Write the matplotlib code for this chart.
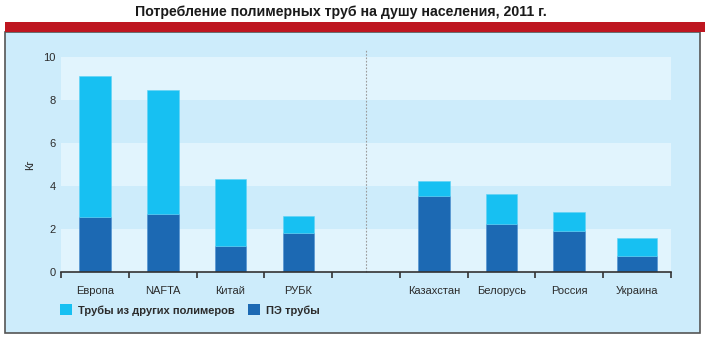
import matplotlib
matplotlib.use("Agg")
import matplotlib.pyplot as plt
from matplotlib.patches import Rectangle, Patch
from matplotlib import font_manager

# Per-capita consumption of polymer pipes, 2011 (kg)
categories = ["Европа", "NAFTA", "Китай", "РУБК", "", "Казахстан", "Белорусь", "Россия", "Украина"]
pe_pipes = [2.55, 2.7, 1.22, 1.82, None, 3.55, 2.25, 1.92, 0.77]
other_pipes = [6.57, 5.75, 3.1, 0.8, None, 0.68, 1.39, 0.87, 0.81]
yticks = [0, 2, 4, 6, 8, 10]
series_labels = ["Трубы из других полимеров", "ПЭ трубы"]
title = "Потребление полимерных труб на душу населения, 2011 г."
ylabel = "Кг"

bar_widths = [0.47, 0.47, 0.47, 0.46, 0, 0.47, 0.47, 0.47, 0.59]

available = {f.name for f in font_manager.fontManager.ttflist}
base_font = "Liberation Sans" if "Liberation Sans" in available else "DejaVu Sans"
title_font = "Liberation Sans Narrow" if "Liberation Sans Narrow" in available else base_font
plt.rcParams["font.family"] = [base_font, "DejaVu Sans"]

c_light = "#17c0f2"
c_dark = "#1c69b3"
panel_bg = "#cdecfb"
band_bg = "#e1f4fd"
text_c = "#2b2b2b"

W, H = 705, 343
fig = plt.figure(figsize=(W / 100, H / 100), dpi=100)
fig.patch.set_facecolor("white")

def px(x0, y0, x1, y1):
    return (x0 / W, 1 - y1 / H, (x1 - x0) / W, (y1 - y0) / H)

# panel and red header strip
l, b, w, h = px(5, 32, 700, 333)
fig.patches.append(Rectangle((l, b), w, h, transform=fig.transFigure,
                             facecolor=panel_bg, edgecolor="#555555", linewidth=1.2, zorder=-2))
l, b, w, h = px(5, 22, 705, 32)
fig.patches.append(Rectangle((l, b), w, h, transform=fig.transFigure,
                             facecolor="#be1620", edgecolor="none", zorder=-1))

fig.text(341 / W, 1 - 12 / H, title, ha="center", va="center", fontsize=10.2,
         fontweight="bold", family=[title_font, "DejaVu Sans"], color="#1a1a1a")

l, b, w, h = px(61, 56.6, 671, 272.2)
ax = fig.add_axes([l, b, w, h])
ax.set_zorder(5)
ax.patch.set_alpha(0)

n = len(categories)
ax.set_xlim(-0.5, n - 0.5)
ax.set_ylim(0, 10)

# alternating horizontal bands
for i, y0 in enumerate(yticks[:-1]):
    col = band_bg if i % 2 == 0 else panel_bg
    ax.axhspan(y0, yticks[i + 1], color=col, zorder=0, lw=0)

xs = [i for i, c in enumerate(categories) if c]
pe = [pe_pipes[i] for i in xs]
oth = [other_pipes[i] for i in xs]
wd = [bar_widths[i] for i in xs]
ax.bar(xs, pe, width=wd, color=c_dark, zorder=2, edgecolor="#4a8fd0", linewidth=0.4)
ax.bar(xs, oth, bottom=pe, width=wd, color=c_light, zorder=2, edgecolor="#5fd2f5", linewidth=0.4)

# divider between world regions and CIS countries
ax.plot([4, 4], [0, 10.3], ls=(0, (1.5, 1.5)), color="#9a9a9a", lw=0.8,
        zorder=1, clip_on=False)

for s in ["top", "right", "left"]:
    ax.spines[s].set_visible(False)
ax.spines["bottom"].set_color("#333333")
ax.spines["bottom"].set_linewidth(1.2)
ax.spines["bottom"].set_zorder(3)

ax.set_xticks(range(n))
ax.set_xticklabels(categories, fontsize=8, color=text_c)
ax.tick_params(axis="x", length=0, pad=10)
ax.set_xticks([i - 0.5 for i in range(n + 1)], minor=True)
ax.tick_params(axis="x", which="minor", length=4, width=1.2, color="#333333", direction="out")

ax.set_yticks(yticks)
ax.set_yticklabels([str(v) for v in yticks], fontsize=8, color=text_c)
ax.tick_params(axis="y", length=0, pad=4)
ax.set_ylabel(ylabel, fontsize=8, color=text_c, labelpad=5.5)

handles = [Patch(facecolor=c_light, edgecolor="none"), Patch(facecolor=c_dark, edgecolor="none")]
fig.legend(handles, series_labels, loc="center left", bbox_to_anchor=(50 / W, 1 - 310 / H),
           ncol=2, frameon=False, handlelength=1.1, handleheight=1.1, handletextpad=0.5,
           columnspacing=1.2, prop={"weight": "bold", "size": 8}, labelcolor=text_c)

fig.savefig("out.png", dpi=100)
